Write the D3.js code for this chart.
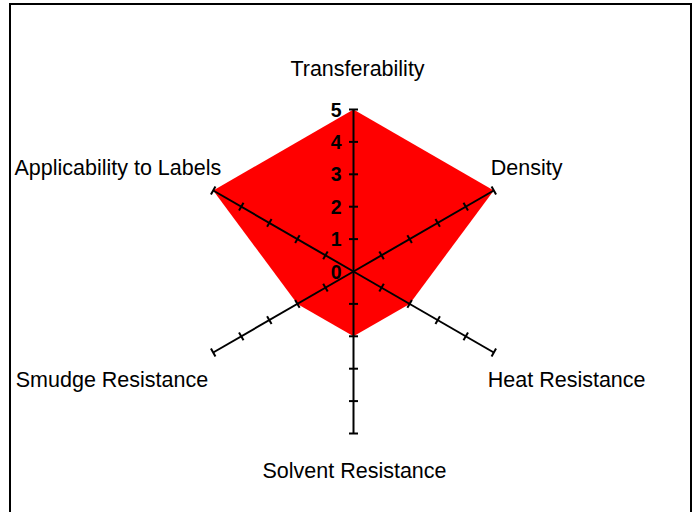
<!DOCTYPE html>
<html>
<head>
<meta charset="utf-8">
<script src="https://cdn.jsdelivr.net/npm/d3@7"></script>
<style>
  body { margin: 0; background: #fff; }
  text { font-family: "Liberation Sans", Arial, sans-serif; }
</style>
</head>
<body>
<div id="radar"></div>
<script>
// data
const categories = [
  "Transferability",
  "Density",
  "Heat Resistance",
  "Solvent Resistance",
  "Smudge Resistance",
  "Applicability to Labels"
]
const values = [5, 5, 2, 2, 2, 5]
const tickValues = [0, 1, 2, 3, 4, 5]

const width = 697
const height = 512
const cx = 353.5
const cy = 271.5
const radius = 162

const svg = d3
  .select("#radar")
  .append("svg")
  .attr("width", width)
  .attr("height", height)

// chart frame (bottom edge runs off the picture)
svg
  .append("rect")
  .attr("x", 10)
  .attr("y", 4)
  .attr("width", 681)
  .attr("height", 520)
  .attr("fill", "none")
  .attr("stroke", "#000")
  .attr("stroke-width", 2)

const rScale = d3.scaleLinear().domain([0, 5]).range([0, radius])

const angle = function(i) {
  return (i * 2 * Math.PI) / categories.length
}
// point on axis i at value v
const pt = function(i, v) {
  const a = angle(i)
  return [cx + rScale(v) * Math.sin(a), cy - rScale(v) * Math.cos(a)]
}

const g = svg.append("g")

// filled area
const radial = d3
  .lineRadial()
  .angle(function(d, i) { return angle(i) })
  .radius(function(d) { return rScale(d) })
  .curve(d3.curveLinearClosed)

g.append("path")
  .datum(values)
  .attr("transform", "translate(" + cx + "," + cy + ")")
  .attr("d", radial)
  .attr("fill", "#ff0000")

// axes
categories.forEach(function(c, i) {
  const end = pt(i, 5)
  g.append("line")
    .attr("x1", cx)
    .attr("y1", cy)
    .attr("x2", end[0])
    .attr("y2", end[1])
    .attr("stroke", "#000")
    .attr("stroke-width", 2)

  // tick marks perpendicular to the axis
  const a = angle(i)
  const px = Math.cos(a)
  const py = Math.sin(a)
  const tLen = 4.5
  tickValues.slice(1).forEach(function(v) {
    const p = pt(i, v)
    g.append("line")
      .attr("x1", p[0] - px * tLen)
      .attr("y1", p[1] - py * tLen)
      .attr("x2", p[0] + px * tLen)
      .attr("y2", p[1] + py * tLen)
      .attr("stroke", "#000")
      .attr("stroke-width", 2)
  })
})

// value labels on the first axis
g.selectAll(".tickLabel")
  .data(tickValues)
  .enter()
  .append("text")
  .attr("class", "tickLabel")
  .attr("x", cx - 12)
  .attr("y", function(d) { return cy - rScale(d) })
  .attr("dy", "0.36em")
  .attr("text-anchor", "end")
  .attr("font-size", 19.5)
  .attr("font-weight", "bold")
  .attr("fill", "#000")
  .text(function(d) { return d })

// category labels: anchor and offset from the axis end
const labelPlace = [
  { anchor: "middle", dx: 4, dy: -34 },
  { anchor: "start", dx: -3, dy: -16 },
  { anchor: "start", dx: -6, dy: 34 },
  { anchor: "middle", dx: 1, dy: 44 },
  { anchor: "end", dx: -5, dy: 34 },
  { anchor: "end", dx: 8, dy: -16 }
]

g.selectAll(".axisLabel")
  .data(categories)
  .enter()
  .append("text")
  .attr("class", "axisLabel")
  .attr("x", function(d, i) { return pt(i, 5)[0] + labelPlace[i].dx })
  .attr("y", function(d, i) { return pt(i, 5)[1] + labelPlace[i].dy })
  .attr("text-anchor", function(d, i) { return labelPlace[i].anchor })
  .attr("font-size", 21.5)
  .attr("fill", "#000")
  .text(function(d) { return d })
</script>
</body>
</html>
